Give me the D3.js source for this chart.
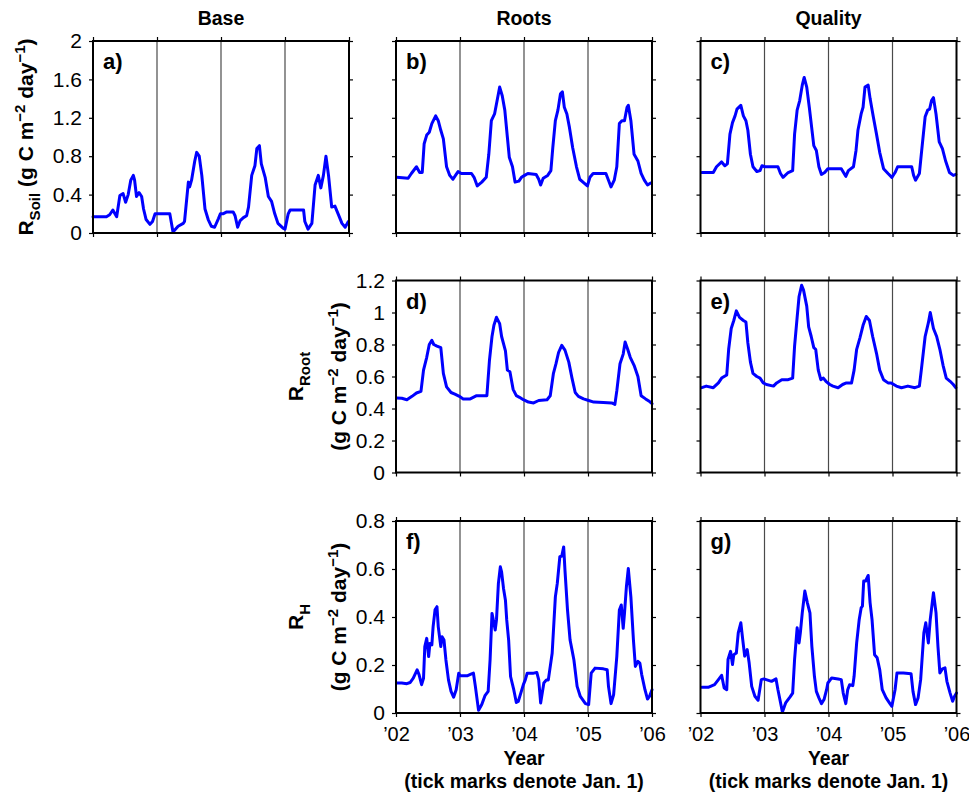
<!DOCTYPE html>
<html><head><meta charset="utf-8">
<script src="https://cdn.jsdelivr.net/npm/d3@7"></script>
<style>
body{margin:0;background:#fff}
svg{display:block}
text{font-family:"Liberation Sans",Arial,Helvetica,sans-serif;fill:#000}
</style>
</head><body>
<svg id="chart" width="969" height="795"></svg>
<script>
// ---------- data ----------
const years = [2002, 2003, 2004, 2005, 2006];
const yearLabels = ["\u201902", "\u201903", "\u201904", "\u201905", "\u201906"];
const soilTicks = [0, 0.4, 0.8, 1.2, 1.6, 2];
const rootTicks = [0, 0.2, 0.4, 0.6, 0.8, 1, 1.2];
const rhTicks = [0, 0.2, 0.4, 0.6, 0.8];
const columnTitles = ["Base", "Roots", "Quality"];

// [decimal year, g C m-2 day-1]
const baseSoil = [[2002.00,0.17],[2002.21,0.17],[2002.26,0.19],[2002.31,0.24],[2002.37,0.17],[2002.42,0.39],[2002.47,0.41],[2002.51,0.32],[2002.55,0.40],[2002.59,0.55],[2002.63,0.60],[2002.65,0.55],[2002.68,0.38],[2002.72,0.42],[2002.76,0.38],[2002.79,0.25],[2002.83,0.14],[2002.89,0.09],[2002.93,0.12],[2002.97,0.20],[2002.99,0.20],[2003.20,0.20],[2003.25,0.01],[2003.33,0.07],[2003.41,0.10],[2003.43,0.12],[2003.49,0.53],[2003.51,0.48],[2003.54,0.55],[2003.59,0.75],[2003.62,0.84],[2003.66,0.80],[2003.70,0.60],[2003.75,0.25],[2003.80,0.14],[2003.85,0.07],[2003.90,0.06],[2003.96,0.15],[2003.99,0.20],[2004.03,0.20],[2004.09,0.22],[2004.19,0.22],[2004.22,0.18],[2004.26,0.06],[2004.30,0.13],[2004.35,0.16],[2004.40,0.18],[2004.43,0.27],[2004.48,0.60],[2004.53,0.70],[2004.56,0.88],[2004.60,0.91],[2004.63,0.72],[2004.69,0.58],[2004.74,0.38],[2004.79,0.33],[2004.84,0.20],[2004.89,0.10],[2004.97,0.05],[2005.00,0.04],[2005.05,0.20],[2005.08,0.24],[2005.29,0.24],[2005.31,0.12],[2005.36,0.04],[2005.42,0.10],[2005.47,0.50],[2005.52,0.60],[2005.56,0.47],[2005.60,0.60],[2005.64,0.80],[2005.68,0.60],[2005.73,0.27],[2005.78,0.28],[2005.83,0.20],[2005.89,0.10],[2005.94,0.06],[2005.99,0.12]];

const rootsSoil = [[2002.01,0.58],[2002.19,0.57],[2002.24,0.62],[2002.32,0.69],[2002.37,0.63],[2002.41,0.63],[2002.44,0.93],[2002.48,1.02],[2002.52,1.05],[2002.56,1.14],[2002.62,1.22],[2002.66,1.17],[2002.70,1.07],[2002.74,0.98],[2002.79,0.69],[2002.84,0.60],[2002.89,0.56],[2002.94,0.61],[2002.97,0.64],[2003.02,0.62],[2003.18,0.62],[2003.22,0.58],[2003.27,0.49],[2003.34,0.53],[2003.41,0.58],[2003.45,0.82],[2003.49,1.17],[2003.54,1.24],[2003.58,1.38],[2003.62,1.52],[2003.66,1.43],[2003.70,1.28],[2003.74,1.00],[2003.77,0.79],[2003.82,0.69],[2003.86,0.53],[2003.92,0.54],[2003.96,0.58],[2004.01,0.60],[2004.06,0.62],[2004.19,0.61],[2004.23,0.56],[2004.26,0.50],[2004.30,0.57],[2004.37,0.60],[2004.42,0.65],[2004.45,0.89],[2004.49,1.17],[2004.53,1.28],[2004.57,1.45],[2004.60,1.47],[2004.63,1.31],[2004.67,1.24],[2004.71,1.10],[2004.76,0.89],[2004.82,0.69],[2004.87,0.56],[2004.94,0.52],[2004.99,0.49],[2005.03,0.58],[2005.08,0.62],[2005.28,0.62],[2005.32,0.55],[2005.36,0.48],[2005.41,0.55],[2005.45,0.69],[2005.49,1.14],[2005.53,1.17],[2005.57,1.17],[2005.61,1.31],[2005.63,1.33],[2005.67,1.17],[2005.72,0.82],[2005.78,0.75],[2005.83,0.62],[2005.88,0.55],[2005.93,0.50],[2005.98,0.52]];

const qualitySoil = [[2002.02,0.63],[2002.20,0.63],[2002.25,0.69],[2002.33,0.74],[2002.38,0.70],[2002.42,0.72],[2002.46,1.03],[2002.50,1.15],[2002.54,1.22],[2002.57,1.29],[2002.63,1.33],[2002.67,1.22],[2002.71,1.17],[2002.74,1.07],[2002.78,0.82],[2002.82,0.69],[2002.88,0.64],[2002.93,0.65],[2002.96,0.70],[2003.01,0.69],[2003.21,0.69],[2003.25,0.62],[2003.29,0.58],[2003.37,0.63],[2003.44,0.65],[2003.47,1.03],[2003.51,1.28],[2003.55,1.38],[2003.59,1.54],[2003.62,1.62],[2003.66,1.52],[2003.70,1.31],[2003.73,1.14],[2003.77,0.91],[2003.81,0.86],[2003.85,0.69],[2003.89,0.61],[2003.94,0.63],[2003.99,0.67],[2004.05,0.67],[2004.20,0.67],[2004.27,0.59],[2004.31,0.65],[2004.39,0.69],[2004.43,0.86],[2004.46,1.07],[2004.51,1.24],[2004.54,1.31],[2004.57,1.52],[2004.62,1.54],[2004.65,1.40],[2004.70,1.21],[2004.75,1.03],[2004.80,0.84],[2004.86,0.67],[2004.93,0.62],[2004.99,0.58],[2005.04,0.63],[2005.08,0.69],[2005.30,0.69],[2005.33,0.60],[2005.36,0.55],[2005.42,0.62],[2005.45,0.82],[2005.51,1.21],[2005.55,1.28],[2005.58,1.29],[2005.61,1.38],[2005.64,1.41],[2005.68,1.24],[2005.73,0.95],[2005.78,0.88],[2005.83,0.75],[2005.89,0.63],[2005.95,0.60],[2005.99,0.61]];

const rootsRoot = [[2002.01,0.466],[2002.09,0.464],[2002.17,0.455],[2002.25,0.476],[2002.32,0.497],[2002.39,0.507],[2002.43,0.64],[2002.48,0.72],[2002.52,0.80],[2002.56,0.826],[2002.59,0.80],[2002.64,0.79],[2002.70,0.78],[2002.74,0.62],[2002.79,0.535],[2002.86,0.50],[2002.92,0.49],[2002.99,0.476],[2003.05,0.46],[2003.16,0.46],[2003.26,0.48],[2003.42,0.48],[2003.46,0.70],[2003.50,0.85],[2003.53,0.92],[2003.57,0.97],[2003.62,0.93],[2003.65,0.85],[2003.71,0.76],[2003.74,0.64],[2003.78,0.63],[2003.83,0.52],[2003.88,0.48],[2003.93,0.47],[2003.99,0.455],[2004.07,0.44],[2004.15,0.435],[2004.23,0.45],[2004.36,0.455],[2004.41,0.48],[2004.46,0.62],[2004.50,0.68],[2004.54,0.75],[2004.59,0.795],[2004.64,0.765],[2004.70,0.69],[2004.75,0.59],[2004.80,0.50],[2004.85,0.476],[2004.93,0.46],[2005.01,0.45],[2005.09,0.44],[2005.24,0.437],[2005.37,0.435],[2005.42,0.426],[2005.45,0.51],[2005.50,0.68],[2005.55,0.74],[2005.58,0.815],[2005.62,0.77],[2005.66,0.72],[2005.72,0.67],[2005.78,0.60],[2005.83,0.48],[2005.90,0.46],[2005.95,0.447],[2006.00,0.43]];

const qualityRoot = [[2002.02,0.53],[2002.09,0.54],[2002.20,0.53],[2002.28,0.56],[2002.33,0.59],[2002.41,0.61],[2002.44,0.77],[2002.48,0.90],[2002.52,0.95],[2002.56,1.01],[2002.61,0.97],[2002.67,0.95],[2002.71,0.94],[2002.74,0.81],[2002.78,0.69],[2002.82,0.62],[2002.88,0.60],[2002.93,0.59],[2002.98,0.56],[2003.03,0.55],[2003.14,0.54],[2003.19,0.56],[2003.27,0.58],[2003.37,0.58],[2003.44,0.59],[2003.47,0.79],[2003.51,0.97],[2003.54,1.10],[2003.58,1.17],[2003.61,1.14],[2003.66,1.04],[2003.69,0.91],[2003.73,0.85],[2003.77,0.78],[2003.80,0.77],[2003.84,0.64],[2003.88,0.58],[2003.92,0.59],[2003.96,0.57],[2004.02,0.55],[2004.07,0.54],[2004.15,0.53],[2004.22,0.55],[2004.28,0.56],[2004.36,0.56],[2004.40,0.64],[2004.44,0.77],[2004.49,0.84],[2004.54,0.92],[2004.59,0.975],[2004.64,0.95],[2004.69,0.85],[2004.75,0.745],[2004.80,0.64],[2004.86,0.58],[2004.93,0.56],[2004.98,0.56],[2005.06,0.54],[2005.14,0.53],[2005.24,0.54],[2005.35,0.53],[2005.42,0.54],[2005.45,0.64],[2005.51,0.85],[2005.56,0.935],[2005.59,1.00],[2005.64,0.90],[2005.69,0.85],[2005.74,0.77],[2005.79,0.67],[2005.84,0.59],[2005.90,0.57],[2005.95,0.55],[2005.99,0.53]];

const rootsRH = [[2002.01,0.125],[2002.09,0.125],[2002.17,0.122],[2002.22,0.127],[2002.27,0.145],[2002.33,0.18],[2002.36,0.16],[2002.40,0.118],[2002.43,0.145],[2002.45,0.277],[2002.48,0.311],[2002.51,0.235],[2002.53,0.29],[2002.56,0.284],[2002.58,0.36],[2002.61,0.43],[2002.64,0.443],[2002.66,0.36],[2002.70,0.277],[2002.72,0.318],[2002.75,0.304],[2002.78,0.221],[2002.82,0.138],[2002.86,0.09],[2002.90,0.066],[2002.94,0.097],[2002.98,0.166],[2003.00,0.155],[2003.11,0.155],[2003.18,0.163],[2003.21,0.166],[2003.24,0.111],[2003.29,0.011],[2003.34,0.035],[2003.39,0.072],[2003.44,0.09],[2003.47,0.221],[2003.50,0.415],[2003.52,0.388],[2003.55,0.346],[2003.57,0.388],[2003.60,0.54],[2003.63,0.609],[2003.65,0.588],[2003.68,0.519],[2003.71,0.47],[2003.73,0.388],[2003.76,0.304],[2003.79,0.152],[2003.84,0.097],[2003.88,0.044],[2003.91,0.048],[2003.95,0.083],[2003.99,0.118],[2004.02,0.138],[2004.05,0.166],[2004.15,0.166],[2004.20,0.169],[2004.23,0.138],[2004.26,0.042],[2004.31,0.125],[2004.35,0.138],[2004.38,0.138],[2004.44,0.249],[2004.49,0.484],[2004.52,0.54],[2004.56,0.651],[2004.59,0.654],[2004.62,0.692],[2004.64,0.595],[2004.68,0.429],[2004.72,0.304],[2004.75,0.263],[2004.78,0.221],[2004.83,0.111],[2004.88,0.069],[2004.96,0.039],[2005.01,0.035],[2005.05,0.166],[2005.11,0.187],[2005.24,0.184],[2005.30,0.18],[2005.32,0.111],[2005.36,0.039],[2005.40,0.076],[2005.45,0.235],[2005.49,0.429],[2005.52,0.45],[2005.55,0.353],[2005.57,0.415],[2005.60,0.526],[2005.63,0.602],[2005.67,0.484],[2005.71,0.304],[2005.74,0.194],[2005.78,0.215],[2005.81,0.208],[2005.84,0.159],[2005.89,0.097],[2005.93,0.058],[2005.96,0.069],[2006.00,0.097]];

const qualityRH = [[2002.02,0.107],[2002.12,0.107],[2002.22,0.118],[2002.28,0.139],[2002.33,0.157],[2002.37,0.104],[2002.41,0.097],[2002.43,0.223],[2002.47,0.257],[2002.50,0.202],[2002.52,0.243],[2002.56,0.25],[2002.59,0.334],[2002.63,0.376],[2002.66,0.306],[2002.69,0.237],[2002.73,0.264],[2002.76,0.209],[2002.80,0.111],[2002.85,0.07],[2002.90,0.053],[2002.95,0.139],[2002.99,0.142],[2003.11,0.132],[2003.18,0.142],[2003.21,0.097],[2003.28,0.004],[2003.33,0.042],[2003.40,0.067],[2003.44,0.083],[2003.47,0.223],[2003.51,0.355],[2003.54,0.292],[2003.56,0.334],[2003.59,0.417],[2003.63,0.508],[2003.67,0.459],[2003.71,0.417],[2003.74,0.278],[2003.78,0.153],[2003.81,0.09],[2003.85,0.063],[2003.89,0.039],[2003.93,0.056],[2003.97,0.097],[2003.99,0.125],[2004.05,0.146],[2004.15,0.142],[2004.20,0.139],[2004.23,0.083],[2004.27,0.039],[2004.30,0.097],[2004.33,0.118],[2004.38,0.114],[2004.40,0.153],[2004.44,0.292],[2004.48,0.39],[2004.51,0.438],[2004.53,0.445],[2004.55,0.55],[2004.58,0.55],[2004.62,0.573],[2004.65,0.459],[2004.68,0.39],[2004.72,0.243],[2004.76,0.23],[2004.80,0.181],[2004.84,0.097],[2004.90,0.063],[2004.96,0.039],[2004.99,0.028],[2005.04,0.097],[2005.07,0.167],[2005.17,0.167],[2005.29,0.164],[2005.32,0.09],[2005.36,0.035],[2005.40,0.063],[2005.44,0.139],[2005.49,0.334],[2005.52,0.376],[2005.54,0.334],[2005.56,0.292],[2005.59,0.39],[2005.64,0.501],[2005.68,0.417],[2005.71,0.278],[2005.74,0.167],[2005.78,0.184],[2005.82,0.188],[2005.85,0.132],[2005.90,0.083],[2005.94,0.049],[2005.97,0.07],[2006.00,0.083]];

// ---------- layout ----------
const svg = d3.select("#chart");
const W = 256, H = 192;
const colX = [93, 396, 700.5];
const rowY = [41, 280.5, 521];
const FONT = '"Liberation Sans",Arial,Helvetica,sans-serif';

const panels = [
  {lab:"a)", col:0, row:0, data:baseSoil,    ticks:soilTicks, dom:[0,2],   yLab:true,  xLab:false},
  {lab:"b)", col:1, row:0, data:rootsSoil,   ticks:soilTicks, dom:[0,2],   yLab:false, xLab:false},
  {lab:"c)", col:2, row:0, data:qualitySoil, ticks:soilTicks, dom:[0,2],   yLab:false, xLab:false},
  {lab:"d)", col:1, row:1, data:rootsRoot,   ticks:rootTicks, dom:[0,1.2], yLab:true,  xLab:false},
  {lab:"e)", col:2, row:1, data:qualityRoot, ticks:rootTicks, dom:[0,1.2], yLab:false, xLab:false},
  {lab:"f)", col:1, row:2, data:rootsRH,     ticks:rhTicks,   dom:[0,0.8], yLab:true,  xLab:true},
  {lab:"g)", col:2, row:2, data:qualityRH,   ticks:rhTicks,   dom:[0,0.8], yLab:false, xLab:true}
];

function styleAxis(sel, fs){
  sel.select(".domain").remove();
  sel.selectAll(".tick line").attr("stroke","#000").attr("stroke-width",1.2);
  sel.selectAll(".tick text").attr("font-size",fs).attr("font-family",FONT).attr("fill","#000");
}

panels.forEach(p => {
  const g = svg.append("g").attr("transform", `translate(${colX[p.col]},${rowY[p.row]})`);
  const x = d3.scaleLinear().domain([2002, 2006]).range([0, W]);
  const y = d3.scaleLinear().domain(p.dom).range([H, 0]);

  g.selectAll("line.grid").data(years.slice(1, -1)).join("line")
    .attr("class","grid")
    .attr("x1", d => x(d)).attr("x2", d => x(d))
    .attr("y1", 0).attr("y2", H)
    .attr("stroke", "#4a4a4a").attr("stroke-width", 1.2);

  g.append("path").datum(p.data)
    .attr("d", d3.line().x(d => x(d[0])).y(d => y(d[1])))
    .attr("fill","none").attr("stroke","#0000ff")
    .attr("stroke-width",3).attr("stroke-linejoin","round").attr("stroke-linecap","round");

  const fmt = d3.format("~g");
  g.append("g").call(d3.axisLeft(y).tickValues(p.ticks).tickSize(4).tickSizeOuter(0).tickPadding(7)
      .tickFormat(p.yLab ? fmt : () => ""))
    .call(s => styleAxis(s, 21));
  g.append("g").attr("transform",`translate(${W},0)`)
    .call(d3.axisRight(y).tickValues(p.ticks).tickSize(4).tickSizeOuter(0).tickFormat(() => ""))
    .call(s => styleAxis(s, 21));
  g.append("g")
    .call(d3.axisTop(x).tickValues(years).tickSize(4).tickSizeOuter(0).tickFormat(() => ""))
    .call(s => styleAxis(s, 20));
  g.append("g").attr("transform",`translate(0,${H})`)
    .call(d3.axisBottom(x).tickValues(years).tickSize(4).tickSizeOuter(0).tickPadding(10)
      .tickFormat(p.xLab ? ((d, i) => yearLabels[i]) : () => ""))
    .call(s => styleAxis(s, 20));

  g.append("rect").attr("x",0).attr("y",0).attr("width",W).attr("height",H)
    .attr("fill","none").attr("stroke","#000").attr("stroke-width",2);

  g.append("text").attr("x",10).attr("y",28).text(p.lab)
    .attr("font-size",22).attr("font-weight","bold");

  if (p.xLab) {
    g.append("text").attr("x", W/2).attr("y", H + 52).attr("text-anchor","middle")
      .attr("font-size",19.5).attr("font-weight","bold").text("Year");
    g.append("text").attr("x", W/2).attr("y", H + 75).attr("text-anchor","middle")
      .attr("font-size",19.5).attr("font-weight","bold").text("(tick marks denote Jan. 1)");
  }
});

// column titles
columnTitles.forEach((t, i) => {
  svg.append("text").attr("x", colX[i] + W/2).attr("y", 25).attr("text-anchor","middle")
    .attr("font-size",19.5).attr("font-weight","bold").text(t);
});

// y-axis titles
function unitTspans(t){
  t.append("tspan").text("(g C m");
  t.append("tspan").attr("dy",-8).attr("font-size",15).text("\u22122");
  t.append("tspan").attr("dy",8).text(" day");
  t.append("tspan").attr("dy",-8).attr("font-size",15).text("\u22121");
  t.append("tspan").attr("dy",8).text(")");
}
// a) single line
{
  const t = svg.append("text").attr("transform",`translate(33,${rowY[0]+H/2}) rotate(-90)`)
    .attr("text-anchor","middle").attr("font-size",21).attr("font-weight","bold");
  t.append("tspan").text("R");
  t.append("tspan").attr("dy",7).attr("font-size",15).text("Soil");
  t.append("tspan").attr("dy",-7).text(" ");
  unitTspans(t);
}
// d) and f) two lines
[["Root", 1], ["H", 2]].forEach(([sub, r]) => {
  const cy = rowY[r] + H/2;
  const t1 = svg.append("text").attr("transform",`translate(303,${cy}) rotate(-90)`)
    .attr("text-anchor","middle").attr("font-size",21).attr("font-weight","bold");
  t1.append("tspan").text("R");
  t1.append("tspan").attr("dy",7).attr("font-size",15).text(sub);
  const t2 = svg.append("text").attr("transform",`translate(346,${cy}) rotate(-90)`)
    .attr("text-anchor","middle").attr("font-size",21).attr("font-weight","bold");
  unitTspans(t2);
});
</script>
</body></html>
